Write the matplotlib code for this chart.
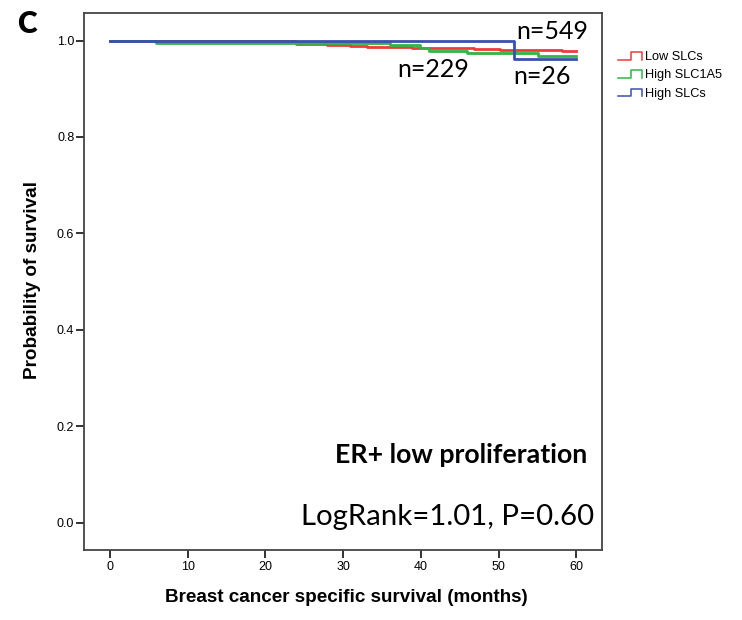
import matplotlib
matplotlib.use("Agg")
import matplotlib.pyplot as plt
from matplotlib.lines import Line2D
from matplotlib.legend_handler import HandlerBase

# Kaplan-Meier steps (months, survival)
low_t = [0, 23.9, 27.9, 30.9, 33.0, 38.8, 46.8, 50.2, 58.1, 60]
low_s = [1.0, 0.992, 0.990, 0.988, 0.986, 0.984, 0.983, 0.981, 0.979, 0.979]
slc1a5_t = [0, 5.9, 36.0, 39.9, 41.0, 45.9, 55.1, 60]
slc1a5_s = [1.0, 0.994, 0.990, 0.985, 0.978, 0.974, 0.967, 0.967]
high_t = [0, 52.0, 60]
high_s = [1.0, 0.961, 0.961]

labels = ["Low SLCs", "High SLC1A5", "High SLCs"]
colors = ["#ee3b3b", "#33b444", "#3a4fb0"]
x_ticks = [0, 10, 20, 30, 40, 50, 60]
y_ticks = [0.0, 0.2, 0.4, 0.6, 0.8, 1.0]

calibri = ["Lato", "DejaVu Sans"]
arial = ["Liberation Sans", "DejaVu Sans"]


class StepHandler(HandlerBase):
    # little step icon like the SPSS legend
    def create_artists(self, legend, orig_handle, xdescent, ydescent,
                       width, height, fontsize, trans):
        x0 = -xdescent
        y0 = -ydescent + 0.1 * height
        y1 = -ydescent + 0.85 * height
        xm = x0 + 0.55 * width
        xs = [x0, xm, xm, x0 + width, x0 + width]
        ys = [y0, y0, y1, y1, y0]
        ln = Line2D(xs, ys, color=orig_handle.get_color(), lw=1.1, transform=trans)
        return [ln]


fig = plt.figure(figsize=(7.42, 6.2), dpi=100)
ax = fig.add_axes([84 / 742, 1 - 550 / 620, 518 / 742, 537 / 620])

for t, s, c in zip([low_t, slc1a5_t, high_t], [low_s, slc1a5_s, high_s], colors):
    ax.step(t, s, where="post", color=c, lw=2.0)

ax.set_xlim(-3.35, 63.3)
ax.set_ylim(-0.056, 1.057)
ax.set_xticks(x_ticks)
ax.set_yticks(y_ticks)
ax.set_yticklabels(["%.1f" % v for v in y_ticks])
ax.tick_params(direction="out", length=5.5, width=1.4, color="#333333",
               labelsize=9)
ax.tick_params(axis="x", pad=2.5)
ax.tick_params(axis="y", pad=1.5)
for lab in ax.get_xticklabels() + ax.get_yticklabels():
    lab.set_family(arial)
for sp in ax.spines.values():
    sp.set_color("#444444")
    sp.set_linewidth(1.3)

ax.text(0.973, 0.965, "n=549", transform=ax.transAxes, ha="right", va="center",
        fontsize=18, family=calibri)
ax.text(0.604, 0.894, "n=229", transform=ax.transAxes, ha="left", va="center",
        fontsize=18, family=calibri)
ax.text(0.828, 0.881, "n=26", transform=ax.transAxes, ha="left", va="center",
        fontsize=18, family=calibri)
ax.text(0.971, 0.177, "ER+ low proliferation", transform=ax.transAxes, ha="right",
        va="center", fontsize=19.3, fontweight="bold", family=calibri)
ax.text(0.985, 0.062, "LogRank=1.01, P=0.60", transform=ax.transAxes, ha="right",
        va="center", fontsize=21.2, family=calibri)

fig.text(346 / 742, 1 - 598 / 620, "Breast cancer specific survival (months)",
         ha="center", va="center", fontsize=13.6, fontweight="bold", family=arial)
fig.text(33 / 742, 1 - 280 / 620, "Probability of survival", rotation=90,
         ha="center", va="center", fontsize=13.6, fontweight="bold", family=arial)
fig.text(27 / 742, 1 - 24 / 620, "C", ha="center", va="center", fontsize=21.5,
         fontweight="heavy", family=calibri)

handles = [Line2D([], [], color=c) for c in colors]
fig.legend(handles, labels, loc="upper left", bbox_to_anchor=(618 / 742, 1 - 50 / 620),
           frameon=False, handler_map={Line2D: StepHandler()}, handlelength=1.9,
           handleheight=0.9, handletextpad=0.2, labelspacing=0.45, borderaxespad=0,
           borderpad=0, prop={"family": arial, "size": 9.2})

fig.savefig("out.png", dpi=100)
